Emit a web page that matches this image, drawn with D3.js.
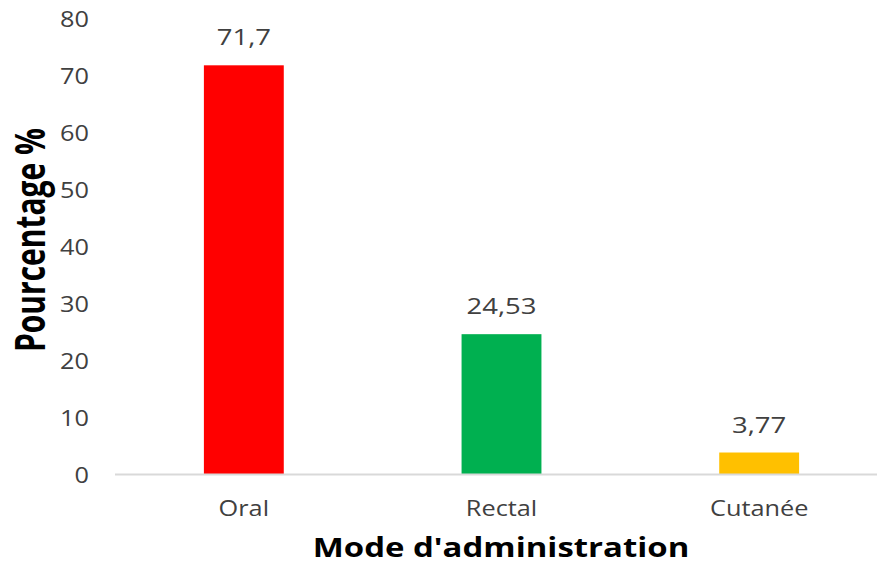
<!DOCTYPE html>
<html>
<head>
<meta charset="utf-8">
<script src="https://cdn.jsdelivr.net/npm/d3@7"></script>
<style>
  html, body { margin: 0; padding: 0; background: #fff; }
  svg { display: block; font-family: "Open Sans", "Noto Sans", sans-serif; }
</style>
</head>
<body>
<svg id="chart" width="877" height="565"></svg>
<script>
// Modes of administration and their share (%)
const categories = ["Oral", "Rectal", "Cutanée"];
const values = [71.7, 24.53, 3.77];
const valueLabels = ["71,7", "24,53", "3,77"];
const colors = ["#ff0000", "#00b050", "#ffc000"];
const yTicks = [0, 10, 20, 30, 40, 50, 60, 70, 80];

const svg = d3.select("#chart");
const textColor = "#404040";
const wide = 1.15; // horizontal stretch applied to the text glyphs

const x = d3.scaleBand()
  .domain(categories)
  .range([115, 888])
  .paddingInner(0.69)
  .paddingOuter(0.345);

const y = d3.scaleLinear()
  .domain([0, 80])
  .range([474, 18]);

// Y axis: labels only, no line or ticks
const yAxis = svg.append("g")
  .attr("transform", "translate(89,0)")
  .call(d3.axisLeft(y).tickValues(yTicks).tickSize(0).tickPadding(0));
yAxis.select(".domain").remove();
yAxis.selectAll("text")
  .attr("fill", textColor)
  .attr("dy", "0.4em")
  .attr("transform", `scale(${wide},1)`)
  .style("font-size", "22px")
  .style("font-family", "'Open Sans', sans-serif");

// Bars
svg.append("g")
  .selectAll("rect")
  .data(values)
  .join("rect")
  .attr("x", (d, i) => x(categories[i]))
  .attr("y", d => y(d))
  .attr("width", x.bandwidth())
  .attr("height", d => y(0) - y(d))
  .attr("fill", (d, i) => colors[i]);

// Baseline
svg.append("line")
  .attr("x1", 115).attr("x2", 877)
  .attr("y1", y(0) + 0.5).attr("y2", y(0) + 0.5)
  .attr("stroke", "#d9d9d9")
  .attr("stroke-width", 2);

// X axis category labels
const xAxis = svg.append("g")
  .attr("transform", `translate(0,${y(0)})`)
  .call(d3.axisBottom(x).tickSize(0).tickPadding(26));
xAxis.select(".domain").remove();
xAxis.selectAll("text")
  .attr("fill", textColor)
  .attr("transform", `scale(${wide},1)`)
  .style("font-size", "22px")
  .style("font-family", "'Open Sans', sans-serif");

// Value labels above the bars
svg.append("g")
  .selectAll("text")
  .data(values)
  .join("text")
  .attr("transform", (d, i) =>
    `translate(${x(categories[i]) + x.bandwidth() / 2},${y(d) - 20}) scale(1.25,1)`)
  .attr("text-anchor", "middle")
  .attr("fill", textColor)
  .style("font-size", "22px")
  .text((d, i) => valueLabels[i]);

// Axis titles
svg.append("text")
  .attr("transform", "translate(501,557) scale(1.22,1)")
  .attr("text-anchor", "middle")
  .attr("fill", "#000")
  .style("font-size", "27px")
  .style("font-weight", "bold")
  .text("Mode d'administration");

svg.append("text")
  .attr("transform", "translate(45,240) scale(1.35,1) rotate(-90)")
  .attr("text-anchor", "middle")
  .attr("fill", "#000")
  .style("font-size", "30px")
  .style("font-weight", "bold")
  .text("Pourcentage %");
</script>
</body>
</html>
